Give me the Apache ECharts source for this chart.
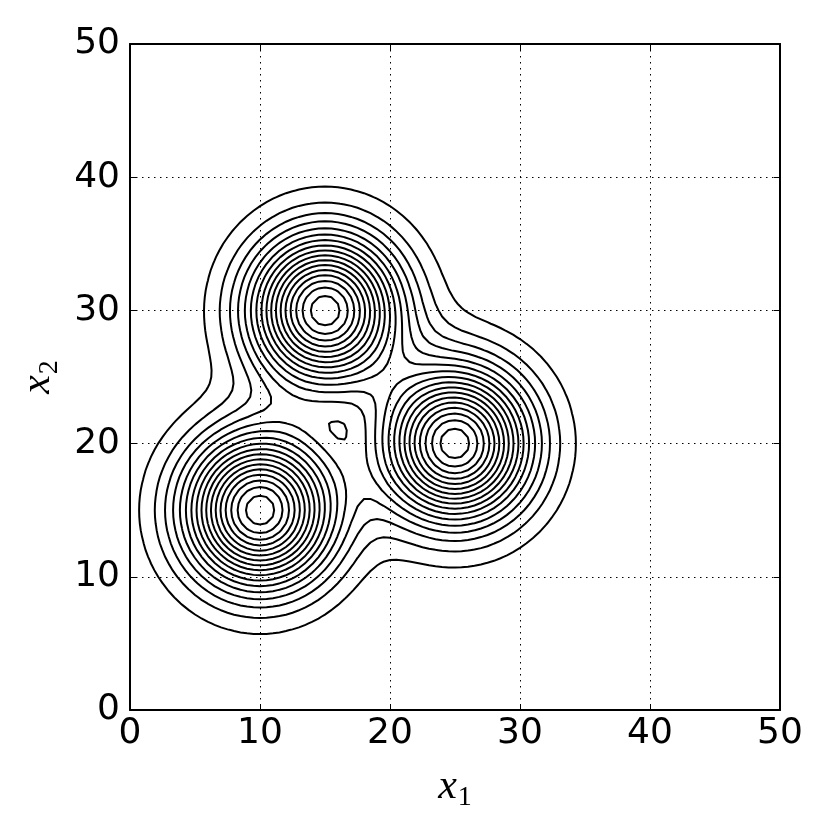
<!DOCTYPE html>
<html>
<head>
<meta charset="utf-8">
<script src="https://cdn.jsdelivr.net/npm/echarts@6/dist/echarts.min.js"></script>
<style>
  html, body { margin: 0; padding: 0; background: #fff; }
  #chart { width: 830px; height: 830px; }
</style>
</head>
<body>
<div id="chart"></div>
<script>
// mixture of three gaussians
const centersX = [10, 15, 25];
const centersY = [15, 30, 20];
const weights = [1 / 3, 1 / 3, 1 / 3];
const variance = [15, 15, 15];
// contour levels
const levels = [0.0002, 0.0004, 0.0006, 0.0008, 0.0010, 0.0012, 0.0014, 0.0016, 0.0018,
  0.0020, 0.0022, 0.0024, 0.0026, 0.0028, 0.0030, 0.0032, 0.0034];
const tickValues = [0, 10, 20, 30, 40, 50];
const gridStep = 0.5;

function density(x, y) {
  let s = 0;
  for (let k = 0; k < centersX.length; k++) {
    const dx = x - centersX[k], dy = y - centersY[k];
    s += weights[k] / (2 * Math.PI * variance[k]) * Math.exp(-(dx * dx + dy * dy) / (2 * variance[k]));
  }
  return s;
}

const n = Math.round(50 / gridStep) + 1;
const gx = [], field = [];
for (let i = 0; i < n; i++) gx.push(i * gridStep);
for (let i = 0; i < n; i++) {
  field.push([]);
  for (let j = 0; j < n; j++) field[i].push(density(gx[i], gx[j]));
}

// marching squares, then chain segments into polylines
function contourLines(L) {
  function edgePoint(key) {
    const t = key[0], i = key[1], j = key[2];
    let i2 = i, j2 = j;
    if (t === 'h') i2 = i + 1; else j2 = j + 1;
    const f1 = field[i][j], f2 = field[i2][j2];
    const a = (L - f1) / (f2 - f1);
    return [gx[i] + a * (gx[i2] - gx[i]), gx[j] + a * (gx[j2] - gx[j])];
  }
  const segs = [];
  for (let i = 0; i < n - 1; i++) {
    for (let j = 0; j < n - 1; j++) {
      const v0 = field[i][j], v1 = field[i + 1][j], v2 = field[i + 1][j + 1], v3 = field[i][j + 1];
      const e = [['h', i, j], ['v', i + 1, j], ['h', i, j + 1], ['v', i, j]];
      const c = (v0 > L ? 1 : 0) | (v1 > L ? 2 : 0) | (v2 > L ? 4 : 0) | (v3 > L ? 8 : 0);
      if (c === 0 || c === 15) continue;
      if (c === 5 || c === 10) {
        const mid = (v0 + v1 + v2 + v3) / 4 > L;
        if ((c === 5) === mid) { segs.push([e[0], e[1]], [e[2], e[3]]); }
        else { segs.push([e[0], e[3]], [e[1], e[2]]); }
        continue;
      }
      const cross = [];
      if ((v0 > L) !== (v1 > L)) cross.push(e[0]);
      if ((v1 > L) !== (v2 > L)) cross.push(e[1]);
      if ((v3 > L) !== (v2 > L)) cross.push(e[2]);
      if ((v0 > L) !== (v3 > L)) cross.push(e[3]);
      segs.push([cross[0], cross[1]]);
    }
  }
  const id = k => k.join(',');
  const byKey = {};
  segs.forEach((s, idx) => {
    [0, 1].forEach(end => {
      const k = id(s[end]);
      (byKey[k] = byKey[k] || []).push(idx);
    });
  });
  const used = new Array(segs.length).fill(false);
  const lines = [];
  function walk(startKey, chain) {
    let key = startKey;
    while (true) {
      const next = (byKey[id(key)] || []).find(q => !used[q]);
      if (next === undefined) break;
      used[next] = true;
      const s = segs[next];
      key = id(s[0]) === id(key) ? s[1] : s[0];
      chain.push(key);
    }
  }
  for (let s = 0; s < segs.length; s++) {
    if (used[s]) continue;
    used[s] = true;
    const fwd = [segs[s][1]];
    walk(segs[s][1], fwd);
    const back = [segs[s][0]];
    walk(segs[s][0], back);
    const keys = back.reverse().concat(fwd);
    lines.push({ coords: keys.map(edgePoint) });
  }
  return lines;
}

const series = levels.map(L => ({
  type: 'lines',
  coordinateSystem: 'cartesian2d',
  polyline: true,
  silent: true,
  lineStyle: { color: '#000', width: 2, opacity: 1 },
  data: contourLines(L)
}));

const chart = echarts.init(document.getElementById('chart'));
const labelFont = { fontFamily: 'DejaVu Sans', fontSize: 36, color: '#000' };
const mathName = (sub) => ({
  name: '{x|x}{s|' + sub + '}',
  nameTextStyle: {
    fontFamily: 'Liberation Serif',
    rich: {
      x: { fontFamily: 'Liberation Serif', fontStyle: 'italic', fontSize: 42, color: '#000', lineHeight: 50, verticalAlign: 'middle' },
      s: { fontFamily: 'Liberation Serif', fontSize: 28, color: '#000', lineHeight: 50, verticalAlign: 'bottom', padding: [0, 0, 0, 1] }
    }
  }
});
const dotted = { show: true, lineStyle: { color: '#000', width: 1, type: [1.5, 4.5] } };
const frame = { show: true, onZero: false, lineStyle: { color: '#000', width: 2 } };
const ticks = { show: true, inside: true, length: 6, lineStyle: { color: '#000', width: 1 } };

chart.setOption({
  animation: false,
  backgroundColor: '#fff',
  grid: { left: 130, top: 44, width: 650, height: 666, outerBoundsMode: 'none', containLabel: false },
  xAxis: [
    Object.assign({
      type: 'value', min: 0, max: 50, interval: 10, position: 'bottom',
      nameLocation: 'middle', nameGap: 52,
      axisLine: frame, axisTick: ticks, splitLine: dotted,
      axisLabel: Object.assign({ margin: 6, formatter: v => tickValues.includes(v) ? String(v) : '' }, labelFont)
    }, mathName('1')),
    {
      type: 'value', min: 0, max: 50, interval: 10, position: 'top',
      axisLine: frame, axisTick: ticks, splitLine: { show: false }, axisLabel: { show: false }
    }
  ],
  yAxis: [
    Object.assign({
      type: 'value', min: 0, max: 50, interval: 10, position: 'left',
      nameLocation: 'middle', nameGap: 60, nameRotate: 90,
      axisLine: frame, axisTick: ticks, splitLine: dotted,
      axisLabel: Object.assign({ margin: 10, formatter: v => tickValues.includes(v) ? String(v) : '' }, labelFont)
    }, mathName('2')),
    {
      type: 'value', min: 0, max: 50, interval: 10, position: 'right',
      axisLine: frame, axisTick: ticks, splitLine: { show: false }, axisLabel: { show: false }
    }
  ],
  series: series
});
</script>
</body>
</html>
